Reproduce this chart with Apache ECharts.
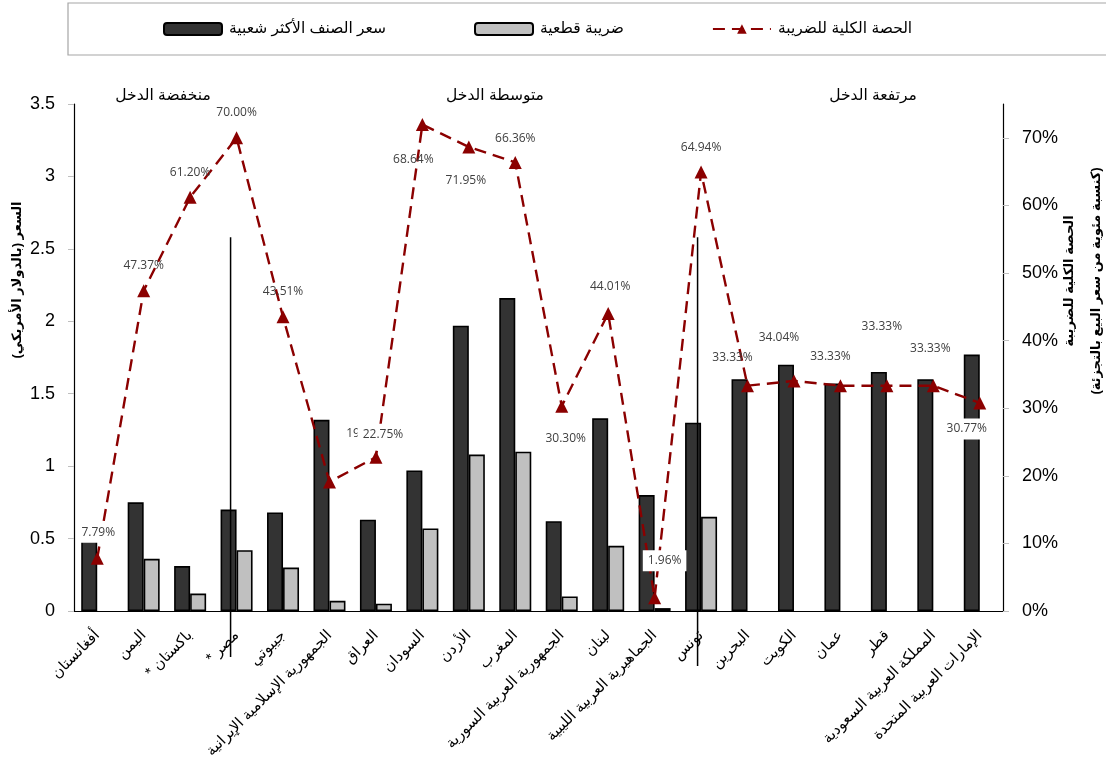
<!DOCTYPE html>
<html>
<head>
<meta charset="utf-8">
<script src="https://cdn.jsdelivr.net/npm/echarts@6/dist/echarts.min.js"></script>
<style>
html,body{margin:0;padding:0;background:#fff;}
#c{width:1106px;height:772px;}
</style>
</head>
<body>
<div id="c"></div>
<script>
// ---------- data ----------
var RLM = '\u200F';
var categories = [
  'أفغانستان', 'اليمن', 'باكستان *' + RLM, 'مصر *' + RLM, 'جيبوتي',
  'الجمهورية الإسلامية الإيرانية', 'العراق', 'السودان', 'الأردن', 'المغرب',
  'الجمهورية العربية السورية', 'لبنان', 'الجماهيرية العربية الليبية', 'تونس', 'البحرين',
  'الكويت', 'عمان', 'قطر', 'المملكة العربية السعودية', 'الإمارات العربية المتحدة'
];
var priceMostPopular = [0.55, 0.75, 0.31, 0.70, 0.68, 1.32, 0.63, 0.97, 1.97, 2.16, 0.62, 1.33, 0.80, 1.30, 1.60, 1.70, 1.57, 1.65, 1.60, 1.77];
var specificTax = [null, 0.36, 0.12, 0.42, 0.30, 0.07, 0.05, 0.57, 1.08, 1.10, 0.10, 0.45, 0.02, 0.65, null, null, null, null, null, null];
var totalTaxShare = [7.79, 47.37, 61.20, 70.00, 43.51, 19.10, 22.75, 71.95, 68.64, 66.36, 30.30, 44.01, 1.96, 64.94, 33.33, 34.04, 33.33, 33.33, 33.33, 30.77];
// label texts as printed on the chart (Sudan / Jordan labels appear swapped in the source)
var totalTaxShareLabels = ['7.79%', '47.37%', '61.20%', '70.00%', '43.51%', '19.10%', '22.75%', '68.64%', '71.95%', '66.36%', '30.30%', '44.01%', '1.96%', '64.94%', '33.33%', '34.04%', '33.33%', '33.33%', '33.33%', '30.77%'];
var seriesNames = ['سعر الصنف الأكثر شعبية', 'ضريبة قطعية', 'الحصة الكلية للضريبة'];
var leftTicks = {min: 0, max: 3.5, interval: 0.5};
var rightTicks = {min: 0, max: 75, interval: 10};
var groupTitles = ['منخفضة الدخل', 'متوسطة الدخل', 'مرتفعة الدخل'];
var leftAxisName = 'السعر (بالدولار الأمريكي)' + RLM;
var rightAxisName = 'الحصة الكلية للضريبة' + '\n' + RLM + '(كنسبة مئوية من سعر البيع بالتجزئة)' + RLM;

// ---------- label layout (styling only) ----------
var labelOffsets = [[1,-26],[0,-25],[0,-25],[0,-25],[0,-25],[37,-48],[7,-23],[-9,35],[-3,34],[0,-24],
  [4,32],[2,-27],[10,-37],[0,-24],[-15,-28],[-15,-43],[-10,-29],[-5,-59],[-3,-37],[-13,26]];
var labelBoxed = [true,false,false,false,false,false,true,false,false,false,true,false,true,false,false,false,false,false,false,true];

var AR = '"Liberation Sans", "DejaVu Sans", sans-serif';
var RED = '#8B0000';

var lineData = totalTaxShare.map(function (v, i) {
  var lab = {offset: labelOffsets[i], formatter: totalTaxShareLabels[i]};
  if (labelBoxed[i]) { lab.backgroundColor = '#ffffff'; lab.padding = [5, 5, 4, 5]; }
  return {value: v, label: lab};
});

var chart = echarts.init(document.getElementById('c'), null, {renderer: 'canvas'});
var option = {
  animation: false,
  backgroundColor: '#ffffff',
  grid: {left: 74, right: 103, top: 104, bottom: 161},
  legend: {
    left: 158, top: 16,
    itemWidth: 58, itemHeight: 12, itemGap: 88,
    textStyle: {fontFamily: AR, fontSize: 15.5, color: '#000', padding: [0, 0, 0, 2]},
    data: [seriesNames[0], seriesNames[1], seriesNames[2]]
  },
  xAxis: {
    type: 'category',
    data: categories,
    axisLine: {lineStyle: {color: '#000', width: 1.2}},
    axisTick: {lineStyle: {color: '#bfbfbf'}, length: 6},
    axisLabel: {interval: 0, rotate: 45, fontFamily: AR, fontSize: 15, color: '#000', margin: 22}
  },
  yAxis: [{
    type: 'value', min: leftTicks.min, max: leftTicks.max, interval: leftTicks.interval,
    splitLine: {show: false},
    axisLine: {show: true, lineStyle: {color: '#000', width: 1.2}},
    axisTick: {show: true, lineStyle: {color: '#bfbfbf'}, length: 6},
    axisLabel: {fontFamily: AR, fontSize: 18, color: '#000', margin: 19}
  }, {
    type: 'value', min: rightTicks.min, max: rightTicks.max, interval: rightTicks.interval,
    splitLine: {show: false},
    axisLine: {show: true, lineStyle: {color: '#000', width: 1.2}},
    axisTick: {show: true, lineStyle: {color: '#bfbfbf'}, length: 6},
    axisLabel: {fontFamily: AR, fontSize: 18, color: '#000', margin: 19, showMaxLabel: false, formatter: '{value}%'}
  }],
  series: [{
    name: seriesNames[0], type: 'bar', data: priceMostPopular,
    barWidth: 16, barGap: '0%',
    itemStyle: {color: '#333333', borderColor: '#000', borderWidth: 1.6}
  }, {
    name: seriesNames[1], type: 'bar', data: specificTax,
    barWidth: 16,
    itemStyle: {color: '#c0c0c0', borderColor: '#000', borderWidth: 1.6}
  }, {
    name: seriesNames[2], type: 'line', yAxisIndex: 1, data: lineData,
    z: 5,
    symbol: 'triangle', symbolSize: 13,
    lineStyle: {color: RED, width: 2.4, type: [12, 7]},
    itemStyle: {color: RED},
    label: {show: true, position: 'inside', fontFamily: '"Open Sans", sans-serif', fontSize: 12, color: '#404040'}
  }]
};
chart.setOption(option);

function buildGraphics() {
  var x0 = chart.convertToPixel({xAxisIndex: 0}, 3);
  var x1 = chart.convertToPixel({xAxisIndex: 0}, 13);
  var yTop = chart.convertToPixel({yAxisIndex: 0}, 2.58);
  var yZero = chart.convertToPixel({yAxisIndex: 0}, 0);
  var g = [
    {type: 'rect', shape: {x: 68, y: 3, width: 1060, height: 52}, style: {fill: 'none', stroke: '#a6a6a6', lineWidth: 1.2}, z: -1},
    {type: 'line', shape: {x1: x0 - 6, y1: yTop, x2: x0 - 6, y2: yZero + 46}, style: {stroke: '#000', lineWidth: 1.5}, z: 10},
    {type: 'line', shape: {x1: x1 - 3.5, y1: yTop, x2: x1 - 3.5, y2: yZero + 55}, style: {stroke: '#000', lineWidth: 1.5}, z: 10},
    {type: 'text', x: 163, y: 96, style: {text: groupTitles[0], font: '15.5px ' + AR, fill: '#000', align: 'center', verticalAlign: 'middle', textAlign: 'center', textVerticalAlign: 'middle'}},
    {type: 'text', x: 495, y: 96, style: {text: groupTitles[1], font: '15.5px ' + AR, fill: '#000', align: 'center', verticalAlign: 'middle', textAlign: 'center', textVerticalAlign: 'middle'}},
    {type: 'text', x: 873, y: 96, style: {text: groupTitles[2], font: '15.5px ' + AR, fill: '#000', align: 'center', verticalAlign: 'middle', textAlign: 'center', textVerticalAlign: 'middle'}},
    {type: 'text', x: 17, y: 280, rotation: Math.PI / 2, style: {text: leftAxisName, font: 'bold 13px ' + AR, fill: '#000', align: 'center', verticalAlign: 'middle', textAlign: 'center', textVerticalAlign: 'middle'}},
    {type: 'text', x: 1083, y: 281, rotation: Math.PI / 2, style: {text: rightAxisName, font: 'bold 13px ' + AR, fill: '#000', lineHeight: 27, align: 'center', verticalAlign: 'middle', textAlign: 'center', textVerticalAlign: 'middle'}}
  ];
  chart.setOption({graphic: g});
}
buildGraphics();
</script>
</body>
</html>
